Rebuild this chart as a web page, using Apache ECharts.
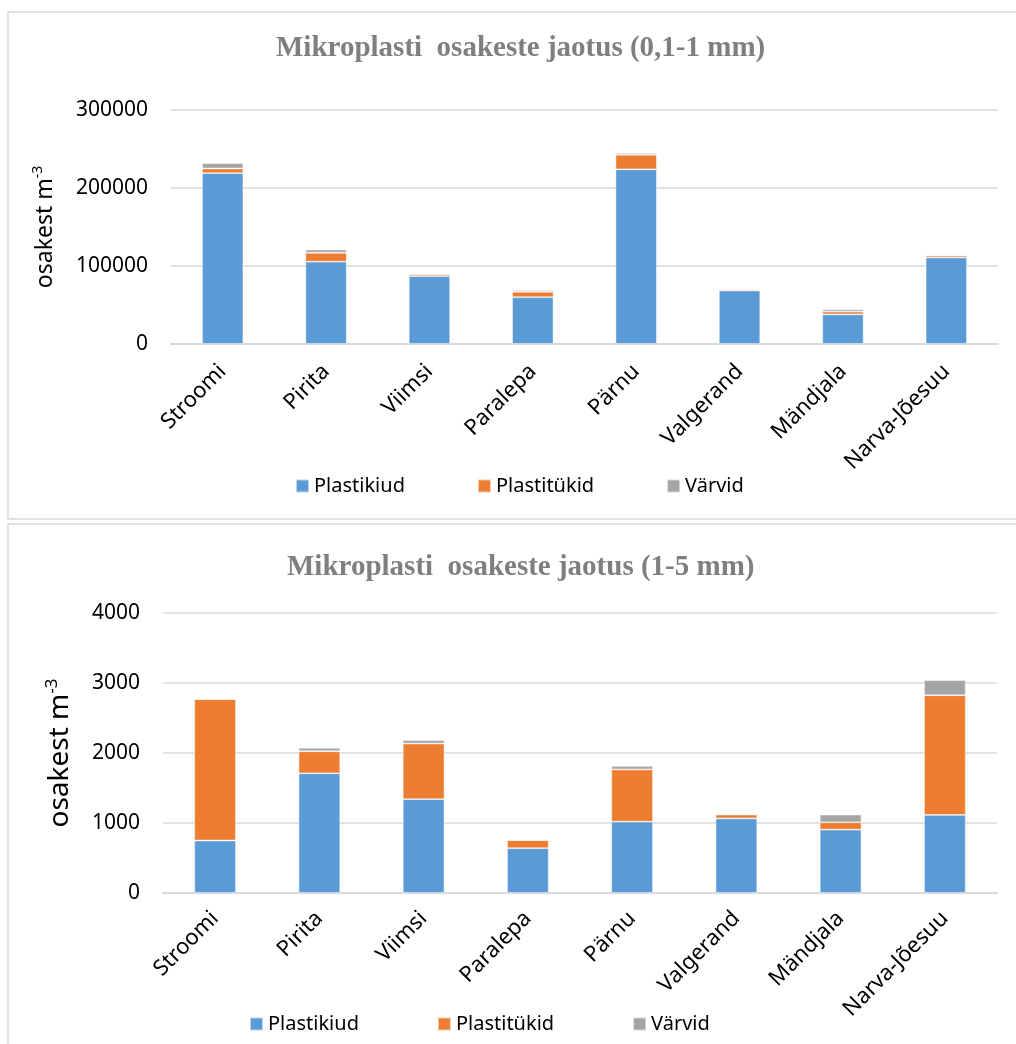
<!DOCTYPE html>
<html>
<head>
<meta charset="utf-8">
<script src="https://cdn.jsdelivr.net/npm/echarts@6/dist/echarts.min.js"></script>
<style>
  html, body { margin: 0; padding: 0; background: #ffffff; }
  #chart { width: 1016px; height: 1044px; }
</style>
</head>
<body>
<div id="chart"></div>
<script>
// Sampling sites (same order in both charts)
const categories = ['Stroomi', 'Pirita', 'Viimsi', 'Paralepa', 'Pärnu', 'Valgerand', 'Mändjala', 'Narva-Jõesuu'];
const seriesNames = ['Plastikiud', 'Plastitükid', 'Värvid'];

// Particles 0,1-1 mm, particles per m³
const fineFibres    = [219000, 105500, 87000, 60000, 224000, 68500, 38000, 111000];
const fineFragments = [6000, 11500, 2500, 7000, 18500, 1500, 3500, 2500];
const finePaints    = [7000, 4000, 300, 2000, 2100, 500, 3000, 300];

// Particles 1-5 mm, particles per m³
const coarseFibres    = [750, 1710, 1340, 640, 1020, 1065, 905, 1115];
const coarseFragments = [2020, 315, 795, 115, 745, 55, 105, 1710];
const coarsePaints    = [0, 50, 50, 0, 50, 5, 110, 215];

// Axis ranges / ticks
const fineAxis = { min: 0, max: 300000, interval: 100000 };
const coarseAxis = { min: 0, max: 4000, interval: 1000 };

const colors = ['#5b9bd5', '#ed7d31', '#a5a5a5'];
const font = 'Noto Sans';
const gridColor = '#d9d9d9';

function categoryAxis(gridIndex, margin) {
  return {
    type: 'category',
    gridIndex: gridIndex,
    data: categories,
    axisLine: { show: true, lineStyle: { color: gridColor, width: 2 } },
    axisTick: { show: false },
    axisLabel: {
      rotate: 45,
      interval: 0,
      margin: margin,
      color: '#000',
      fontFamily: font,
      fontSize: 22
    }
  };
}

function valueAxis(gridIndex, range, nameSize, nameGap) {
  return {
    type: 'value',
    gridIndex: gridIndex,
    min: range.min,
    max: range.max,
    interval: range.interval,
    name: '{a|osakest m}{b|-3}',
    nameLocation: 'middle',
    nameRotate: 90,
    nameGap: nameGap,
    nameTextStyle: {
      color: '#000',
      fontFamily: font,
      rich: {
        a: { fontFamily: font, fontSize: nameSize, color: '#000', lineHeight: nameSize * 1.2 },
        b: { fontFamily: font, fontSize: Math.round(nameSize * 0.6), color: '#000', verticalAlign: 'top', lineHeight: nameSize * 0.7 }
      }
    },
    axisLine: { show: false },
    axisTick: { show: false },
    splitLine: { show: true, lineStyle: { color: gridColor, width: 1.5 } },
    axisLabel: {
      margin: 23,
      color: '#000',
      fontFamily: font,
      fontSize: 21,
      formatter: function (v) { return String(v); }
    }
  };
}

function stackSeries(values, idx, axisIndex, stackId) {
  return {
    name: seriesNames[idx],
    type: 'bar',
    stack: stackId,
    xAxisIndex: axisIndex,
    yAxisIndex: axisIndex,
    barWidth: '40%',
    itemStyle: { color: colors[idx], borderColor: 'rgba(255,255,255,0.6)', borderWidth: 0.8 },
    data: values
  };
}

function legend(left, top, gap) {
  return {
    left: left,
    top: top,
    icon: 'rect',
    itemWidth: 13,
    itemHeight: 13,
    itemGap: gap,
    data: seriesNames,
    selectedMode: false,
    textStyle: { fontFamily: font, fontSize: 20, color: '#000' }
  };
}

const titleStyle = {
  fontFamily: 'Liberation Serif',
  fontWeight: 'bold',
  fontSize: 29,
  color: '#7f7f7f'
};

const chart = echarts.init(document.getElementById('chart'), null, { renderer: 'canvas' });

chart.setOption({
  animation: false,
  backgroundColor: '#ffffff',
  color: colors,
  graphic: [
    { type: 'rect', shape: { x: 8, y: 12, width: 1030, height: 507 }, style: { fill: 'none', stroke: gridColor, lineWidth: 1.5 }, z: -10 },
    { type: 'rect', shape: { x: 8, y: 524, width: 1030, height: 540 }, style: { fill: 'none', stroke: gridColor, lineWidth: 1.5 }, z: -10 }
  ],
  title: [
    { text: 'Mikroplasti  osakeste jaotus (0,1-1 mm)', left: 271, top: 29, textStyle: titleStyle },
    { text: 'Mikroplasti  osakeste jaotus (1-5 mm)', left: 282, top: 548, textStyle: titleStyle }
  ],
  legend: [
    legend(290, 471, 72),
    legend(244, 1009, 78)
  ],
  grid: [
    { left: 171, right: 18, top: 110, height: 234 },
    { left: 163, right: 19, top: 613, height: 280 }
  ],
  xAxis: [
    categoryAxis(0, 24),
    categoryAxis(1, 22)
  ],
  yAxis: [
    valueAxis(0, fineAxis, 23, 112),
    valueAxis(1, coarseAxis, 28, 86)
  ],
  series: [
    stackSeries(fineFibres, 0, 0, 'fine'),
    stackSeries(fineFragments, 1, 0, 'fine'),
    stackSeries(finePaints, 2, 0, 'fine'),
    stackSeries(coarseFibres, 0, 1, 'coarse'),
    stackSeries(coarseFragments, 1, 1, 'coarse'),
    stackSeries(coarsePaints, 2, 1, 'coarse')
  ]
});
</script>
</body>
</html>
